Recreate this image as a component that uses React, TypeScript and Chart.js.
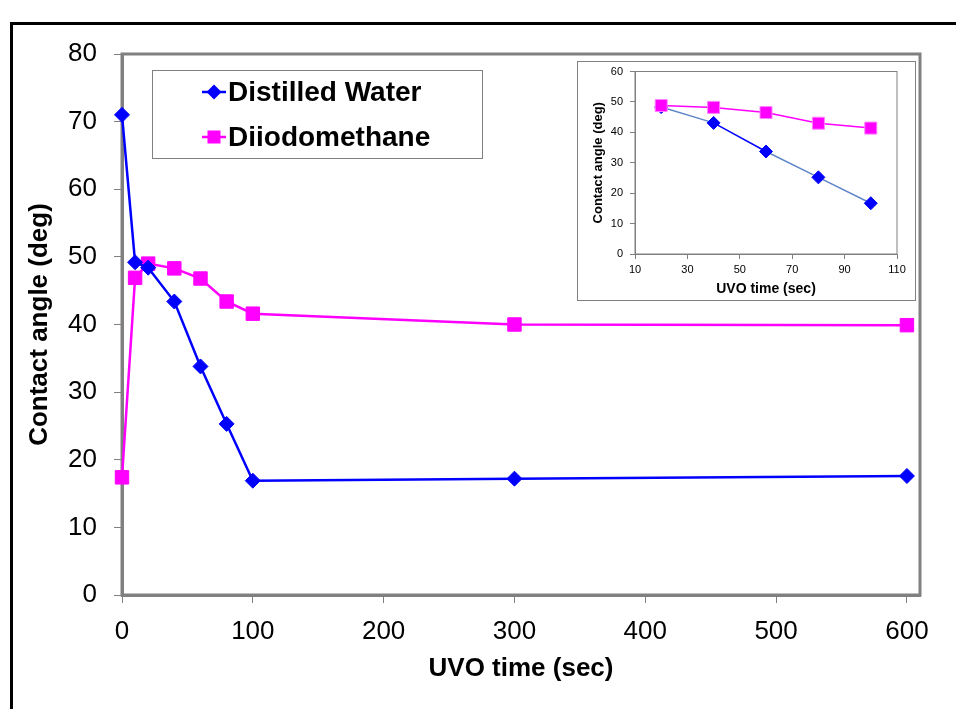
import React, { useEffect, useRef } from "react";
import { Chart, registerables } from "chart.js";

Chart.register(...registerables);

// ---- data (main chart) ----
const uvoTimes = [0, 10, 20, 40, 60, 80, 100, 300, 600];
const waterAngles = [71.0, 49.2, 48.4, 43.4, 33.8, 25.3, 16.9, 17.2, 17.6];
const diiodoAngles = [17.4, 46.9, 49.0, 48.3, 46.8, 43.4, 41.6, 40.0, 39.9];
const xTickValues = [0, 100, 200, 300, 400, 500, 600];

// ---- data (inset chart) ----
const insetTimes = [20, 40, 60, 80, 100];
const insetWater = [48.3, 43.1, 33.7, 25.2, 16.7];
const insetDiiodo = [48.8, 48.2, 46.5, 43.0, 41.4];
const insetXTickValues = [10, 30, 50, 70, 90, 110];

const seriesNames = ["Distilled Water", "Diiodomethane"];

const FONT = "'Liberation Sans', Arial, Helvetica, sans-serif";
const BLUE = "#0000ff";
const STEEL = "#5f86c8";
const MAGENTA = "#ff00ff";
const GRAY = "#808080";
const insetWaterSegmentColors = [STEEL, BLUE, STEEL, STEEL];

const toPts = (xs: number[], ys: number[]) => xs.map((x, i) => ({ x, y: ys[i] }));

const plotBorder = (w: number) => ({
  id: "plotBorder",
  beforeDatasetsDraw(chart: any) {
    const { ctx, chartArea: a } = chart;
    ctx.save();
    ctx.strokeStyle = GRAY;
    ctx.lineWidth = w;
    ctx.strokeRect(a.left, a.top, a.right - a.left, a.bottom - a.top);
    ctx.restore();
  },
});

const drawDiamond = (ctx: CanvasRenderingContext2D, x: number, y: number, r: number) => {
  ctx.beginPath();
  ctx.moveTo(x - r, y);
  ctx.lineTo(x, y - r);
  ctx.lineTo(x + r, y);
  ctx.lineTo(x, y + r);
  ctx.closePath();
  ctx.fill();
};

const legendPlugin = {
  id: "boxLegend",
  afterDraw(chart: any) {
    const { ctx, chartArea: a } = chart;
    const left = a.left + 30;
    const top = a.top + 16;
    ctx.save();
    ctx.fillStyle = "#ffffff";
    ctx.fillRect(left, top, 330, 88);
    ctx.strokeStyle = GRAY;
    ctx.lineWidth = 1;
    ctx.strokeRect(left + 0.5, top + 0.5, 330, 88);
    const items = [
      { name: seriesNames[0], color: BLUE, shape: "diamond", dy: 22 },
      { name: seriesNames[1], color: MAGENTA, shape: "square", dy: 67 },
    ];
    items.forEach((it) => {
      const y = top + it.dy;
      const cx = left + 62;
      ctx.strokeStyle = it.color;
      ctx.lineWidth = 2.5;
      ctx.beginPath();
      ctx.moveTo(cx - 12, y);
      ctx.lineTo(cx + 12, y);
      ctx.stroke();
      ctx.fillStyle = it.color;
      if (it.shape === "diamond") drawDiamond(ctx, cx, y, 7.5);
      else ctx.fillRect(cx - 6.5, y - 6.5, 13, 13);
      ctx.fillStyle = "#000";
      ctx.font = `bold 28px ${FONT}`;
      ctx.textBaseline = "middle";
      ctx.textAlign = "left";
      ctx.fillText(it.name, cx + 14, y + 1);
    });
    ctx.restore();
  },
};

function MainChart() {
  const ref = useRef<HTMLCanvasElement>(null);
  useEffect(() => {
    if (!ref.current) return;
    const chart = new Chart(ref.current, {
      type: "line",
      data: {
        datasets: [
          {
            label: seriesNames[0],
            data: toPts(uvoTimes, waterAngles),
            borderColor: BLUE,
            backgroundColor: BLUE,
            borderWidth: 2.5,
            pointStyle: "rectRot",
            pointRadius: 7.5,
            pointBorderWidth: 1,
            pointBorderColor: BLUE,
            pointBackgroundColor: BLUE,
            clip: false,
          } as any,
          {
            label: seriesNames[1],
            data: toPts(uvoTimes, diiodoAngles),
            borderColor: MAGENTA,
            backgroundColor: MAGENTA,
            borderWidth: 2.5,
            pointStyle: "rect",
            pointRadius: 9.5,
            pointBorderWidth: 1,
            pointBorderColor: MAGENTA,
            pointBackgroundColor: MAGENTA,
            clip: false,
          } as any,
        ],
      },
      options: {
        animation: false,
        responsive: false,
        maintainAspectRatio: false,
        layout: { padding: { left: 14, top: 54, right: 36, bottom: 0 } },
        plugins: { legend: { display: false }, tooltip: { enabled: false } },
        scales: {
          x: {
            type: "linear",
            min: 0,
            max: 610,
            afterBuildTicks: (s: any) => {
              s.ticks = xTickValues.map((v) => ({ value: v }));
            },
            afterFit: (s: any) => {
              s.height = 114;
            },
            ticks: {
              font: { family: FONT, size: 26 },
              color: "#000",
              padding: 13,
              maxRotation: 0,
              autoSkip: false,
            },
            grid: { display: true, drawOnChartArea: false, drawTicks: true, tickLength: 8, color: GRAY, lineWidth: 1 },
            border: { display: true, color: GRAY, width: 3 },
            title: {
              display: true,
              text: "UVO time (sec)",
              font: { family: FONT, size: 26, weight: "bold" },
              color: "#000",
              padding: { top: 0, bottom: 25 },
            },
          },
          y: {
            type: "linear",
            min: 0,
            max: 80,
            afterFit: (s: any) => {
              s.width = 108;
            },
            ticks: { stepSize: 10, font: { family: FONT, size: 26 }, color: "#000", padding: 17 },
            grid: { display: true, drawOnChartArea: false, drawTicks: true, tickLength: 8, color: GRAY, lineWidth: 1 },
            border: { display: true, color: GRAY, width: 3 },
            title: {
              display: true,
              text: "Contact angle (deg)",
              font: { family: FONT, size: 26, weight: "bold" },
              color: "#000",
              padding: { top: 10, bottom: 0 },
            },
          },
        },
      } as any,
      plugins: [plotBorder(3), legendPlugin],
    });
    return () => chart.destroy();
  }, []);
  return (
    <canvas
      ref={ref}
      width={956}
      height={709}
      style={{ position: "absolute", left: 0, top: 0, width: 956, height: 709 }}
    />
  );
}

function InsetChart() {
  const ref = useRef<HTMLCanvasElement>(null);
  useEffect(() => {
    if (!ref.current) return;
    const chart = new Chart(ref.current, {
      type: "line",
      data: {
        datasets: [
          {
            label: seriesNames[1],
            data: toPts(insetTimes, insetDiiodo),
            borderColor: MAGENTA,
            backgroundColor: MAGENTA,
            borderWidth: 1.5,
            pointStyle: "rect",
            pointRadius: 8.5,
            pointBorderWidth: 1,
            pointBorderColor: "#ff80ff",
            pointBackgroundColor: MAGENTA,
            clip: false,
          } as any,
          {
            label: seriesNames[0],
            data: toPts(insetTimes, insetWater),
            borderColor: STEEL,
            backgroundColor: BLUE,
            borderWidth: 1.5,
            segment: {
              borderColor: (c: any) => insetWaterSegmentColors[c.p0DataIndex] || STEEL,
            },
            pointStyle: "rectRot",
            pointRadius: 6.5,
            pointBorderWidth: 1,
            pointBorderColor: BLUE,
            pointBackgroundColor: BLUE,
            clip: false,
          } as any,
        ],
      },
      options: {
        animation: false,
        responsive: false,
        maintainAspectRatio: false,
        layout: { padding: { left: 4, top: 5, right: 18, bottom: 0 } },
        plugins: { legend: { display: false }, tooltip: { enabled: false } },
        scales: {
          x: {
            type: "linear",
            min: 10,
            max: 110,
            afterBuildTicks: (s: any) => {
              s.ticks = insetXTickValues.map((v) => ({ value: v }));
            },
            afterFit: (s: any) => {
              s.height = 46;
              s.paddingRight = 0;
              s.paddingLeft = 0;
            },
            ticks: { font: { family: FONT, size: 11 }, color: "#000", padding: 4, maxRotation: 0, autoSkip: false },
            grid: { display: true, drawOnChartArea: false, drawTicks: true, tickLength: 5, color: GRAY, lineWidth: 1 },
            border: { display: true, color: GRAY, width: 1 },
            title: {
              display: true,
              text: "UVO time (sec)",
              font: { family: FONT, size: 14, weight: "bold" },
              color: "#000",
              padding: { top: 0, bottom: 2 },
            },
          },
          y: {
            type: "linear",
            min: 0,
            max: 60,
            afterFit: (s: any) => {
              s.width = 53;
              s.paddingTop = 0;
              s.paddingBottom = 0;
            },
            ticks: { stepSize: 10, font: { family: FONT, size: 11 }, color: "#000", padding: 7 },
            grid: { display: true, drawOnChartArea: false, drawTicks: true, tickLength: 5, color: GRAY, lineWidth: 1 },
            border: { display: true, color: GRAY, width: 1 },
            title: {
              display: true,
              text: "Contact angle (deg)",
              font: { family: FONT, size: 13, weight: "bold" },
              color: "#000",
              padding: { top: 9, bottom: 0 },
            },
          },
        },
      } as any,
      plugins: [plotBorder(1)],
    });
    return () => chart.destroy();
  }, []);
  return (
    <div
      style={{
        position: "absolute",
        left: 577,
        top: 61,
        width: 337,
        height: 238,
        border: `1px solid ${GRAY}`,
        background: "#fff",
      }}
    >
      <canvas ref={ref} width={337} height={238} style={{ display: "block", width: 337, height: 238 }} />
    </div>
  );
}

export default function App() {
  return (
    <div
      style={{
        position: "fixed",
        left: 0,
        top: 0,
        width: 956,
        height: 709,
        background: "#fff",
        overflow: "hidden",
      }}
    >
      <div
        style={{
          position: "absolute",
          left: 10,
          top: 22,
          width: 1000,
          height: 800,
          borderLeft: "3px solid #000",
          borderTop: "3px solid #000",
        }}
      />
      <MainChart />
      <InsetChart />
    </div>
  );
}
